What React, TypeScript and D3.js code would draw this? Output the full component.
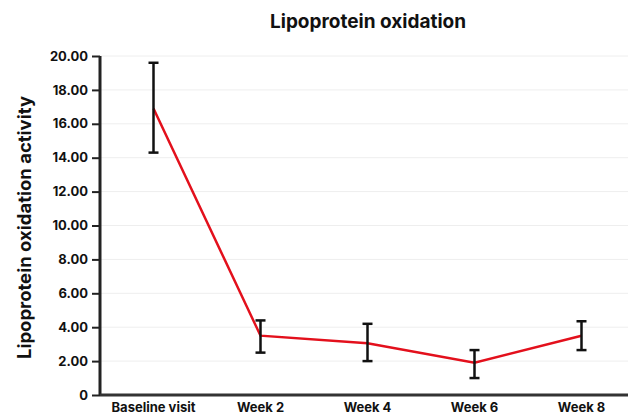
import React, { useEffect, useRef } from 'react';
import * as d3 from 'd3';

const categories = ['Baseline visit', 'Week 2', 'Week 4', 'Week 6', 'Week 8'];
const means = [16.9, 3.5, 3.05, 1.9, 3.5];
const upper = [19.6, 4.4, 4.2, 2.65, 4.35];
const lower = [14.3, 2.5, 2.0, 1.0, 2.65];
const yTicks = [0, 2, 4, 6, 8, 10, 12, 14, 16, 18, 20];

const FONT = 'Inter, "Open Sans", sans-serif';

export default function App() {
  const ref = useRef<SVGSVGElement>(null);

  useEffect(() => {
    const svg = d3.select(ref.current);
    svg.selectAll('*').remove();

    const W = 628, H = 415;
    const left = 100, top = 56, bottom = 395;

    const x = d3.scaleBand().domain(categories).range([left, 635]);
    const y = d3.scaleLinear().domain([0, 20]).range([bottom, top]);

    // grid
    svg.append('g')
      .selectAll('line')
      .data(yTicks.slice(1))
      .join('line')
      .attr('x1', left).attr('x2', W)
      .attr('y1', d => y(d)).attr('y2', d => y(d))
      .attr('stroke', '#eeeeee').attr('stroke-width', 1);

    // y axis
    const ya = svg.append('g')
      .attr('transform', `translate(${left},0)`)
      .call(d3.axisLeft(y).tickValues(yTicks).tickSize(8).tickPadding(4)
        .tickFormat(d => (d === 0 ? '0' : d3.format('.2f')(d as number))));
    ya.select('.domain').attr('stroke', '#222').attr('stroke-width', 3).attr('d', `M0,${bottom}V${top}`);
    ya.selectAll('.tick line').attr('stroke', '#222').attr('stroke-width', 2);
    ya.selectAll('.tick text').attr('fill', '#111').style('font-family', FONT)
      .style('font-size', '13px').style('font-weight', 700);

    // x axis
    const xa = svg.append('g')
      .attr('transform', `translate(0,${bottom})`)
      .call(d3.axisBottom(x).tickSize(0).tickPadding(8));
    xa.select('.domain').attr('stroke', '#333').attr('stroke-width', 3).attr('d', `M${left},0H${W}`);
    xa.selectAll('.tick text').attr('fill', '#111').style('font-family', FONT)
      .style('font-size', '13px').style('font-weight', 700);

    const cx = (i: number) => (x(categories[i]) as number) + x.bandwidth() / 2;

    // line
    const line = d3.line<number>().x((_, i) => cx(i)).y(d => y(d));
    svg.append('path')
      .datum(means)
      .attr('d', line)
      .attr('fill', 'none')
      .attr('stroke', '#e3101c')
      .attr('stroke-width', 2.5);

    // error bars
    const eb = svg.append('g').attr('stroke', '#111').attr('stroke-width', 2.5);
    categories.forEach((_, i) => {
      eb.append('line').attr('x1', cx(i)).attr('x2', cx(i)).attr('y1', y(upper[i])).attr('y2', y(lower[i]));
      [upper[i], lower[i]].forEach(v => {
        eb.append('line').attr('x1', cx(i) - 5).attr('x2', cx(i) + 5).attr('y1', y(v)).attr('y2', y(v));
      });
    });

    svg.append('text')
      .attr('x', 368).attr('y', 28)
      .attr('text-anchor', 'middle')
      .style('font-family', FONT).style('font-size', '19px').style('font-weight', 700)
      .attr('fill', '#111')
      .text('Lipoprotein oxidation');

    svg.append('text')
      .attr('transform', `translate(31,${(top + bottom) / 2 + 2}) rotate(-90)`)
      .attr('text-anchor', 'middle')
      .style('font-family', FONT).style('font-size', '18.5px').style('font-weight', 700)
      .attr('fill', '#111')
      .text('Lipoprotein oxidation activity');
  }, []);

  return <svg ref={ref} width={628} height={415} style={{ position: 'absolute', left: 0, top: 0 }} />;
}
